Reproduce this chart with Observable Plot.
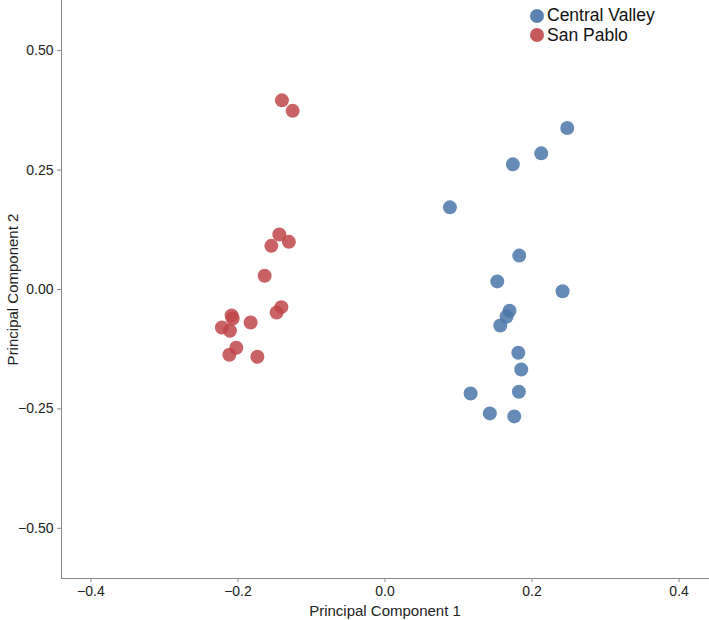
<!DOCTYPE html>
<html>
<head>
<meta charset="utf-8">
<script src="https://cdn.jsdelivr.net/npm/d3@7"></script>
<script src="https://cdn.jsdelivr.net/npm/@observablehq/plot@0.6"></script>
<style>
  body { margin: 0; background: #fff; font-family: "Liberation Sans", Arial, sans-serif; }
  #wrap { position: relative; width: 709px; height: 620px; }
  #legend { position: absolute; top: 6px; left: 530px; font-size: 17.5px; line-height: 19.6px; color: #111; }
  #legend .row { display: flex; align-items: center; height: 19.6px; }
  #legend .sw { width: 14px; height: 14px; border-radius: 50%; margin-right: 3px; opacity: 0.9; flex: none; }
  #legend .tx { display: block; white-space: nowrap; }
</style>
</head>
<body>
<div id="wrap"><div id="legend"></div></div>
<script>
const groups = ["Central Valley", "San Pablo"];
const groupColors = ["#4a76a8", "#c0474a"];

const cvPC1 = [0.2479, 0.2125, 0.1739, 0.0883, 0.1826, 0.1527, 0.2415, 0.1694, 0.1654, 0.1568, 0.1813, 0.1853, 0.1164, 0.1821, 0.1426, 0.1758];
const cvPC2 = [0.338, 0.285, 0.262, 0.172, 0.071, 0.017, -0.0036, -0.0446, -0.0565, -0.0753, -0.1324, -0.1674, -0.2176, -0.214, -0.2594, -0.2657];

const spPC1 = [-0.1402, -0.1256, -0.1437, -0.1307, -0.1546, -0.1637, -0.141, -0.1474, -0.2086, -0.2072, -0.1828, -0.2218, -0.2109, -0.2022, -0.2117, -0.1736];
const spPC2 = [0.396, 0.374, 0.115, 0.0998, 0.0914, 0.0287, -0.037, -0.0481, -0.0544, -0.0607, -0.069, -0.0795, -0.0864, -0.122, -0.1366, -0.1408];

const xTicks = [-0.4, -0.2, 0.0, 0.2, 0.4];
const yTicks = [-0.5, -0.25, 0.0, 0.25, 0.5];

const data = [
  ...cvPC1.map((v, i) => ({group: groups[0], pc1: v, pc2: cvPC2[i]})),
  ...spPC1.map((v, i) => ({group: groups[1], pc1: v, pc2: spPC2[i]}))
];

const fmtX = d3.format(".1f");
const fmtY = d3.format(".2f");

const chart = Plot.plot({
  width: 709,
  height: 620,
  marginLeft: 61,
  marginRight: 1,
  marginTop: 0,
  marginBottom: 42,
  style: {fontFamily: "'Liberation Sans', Arial, sans-serif", background: "#fff"},
  x: {domain: [-0.44, 0.44]},
  y: {domain: [-0.605, 0.605]},
  color: {domain: groups, range: groupColors},
  marks: [
    Plot.axisX({ticks: xTicks, tickFormat: fmtX, tickSize: 4, tickPadding: 4, stroke: "#888", fill: "#222", fontSize: 14,
      label: "Principal Component 1", labelAnchor: "center", labelOffset: 37, labelArrow: "none"}),
    Plot.axisY({ticks: yTicks, tickFormat: fmtY, tickSize: 4, tickPadding: 4, stroke: "#888", fill: "#222", fontSize: 14,
      label: "Principal Component 2", labelAnchor: "center", labelOffset: 54, labelArrow: "none"}),
    Plot.frame({anchor: "left", stroke: "#888"}),
    Plot.frame({anchor: "bottom", stroke: "#888"}),
    Plot.dot(data, {x: "pc1", y: "pc2", fill: "group", r: 7, fillOpacity: 0.85, stroke: "none"})
  ]
});

chart.querySelectorAll("[aria-label='x-axis label'] text, [aria-label='y-axis label'] text").forEach(t => t.setAttribute("font-size", 15));
document.getElementById("wrap").prepend(chart);

const legend = document.getElementById("legend");
groups.forEach((g, i) => {
  const row = document.createElement("div");
  row.className = "row";
  const sw = document.createElement("span");
  sw.className = "sw";
  sw.style.background = groupColors[i];
  const tx = document.createElement("div");
  tx.className = "tx";
  tx.textContent = g;
  row.append(sw, tx);
  legend.append(row);
});
</script>
</body>
</html>
